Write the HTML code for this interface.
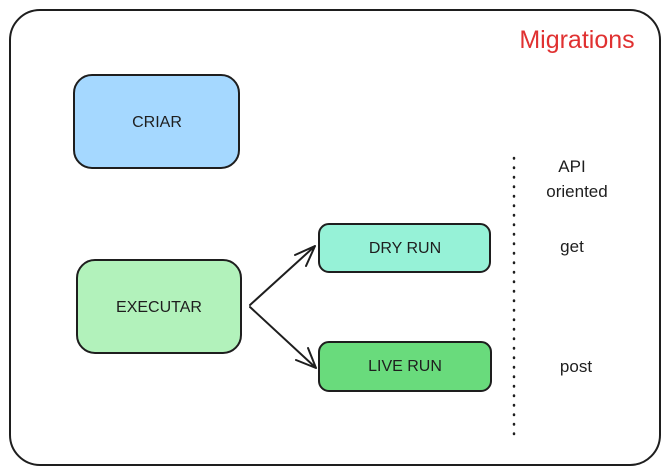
<!DOCTYPE html>
<html><head><meta charset="utf-8"><style>
html,body{margin:0;padding:0;background:#fff;width:670px;height:475px;overflow:hidden}
svg text{font-family:"Liberation Sans",sans-serif;fill:#1e1e1e}
</style></head><body>
<svg width="670" height="475" viewBox="0 0 670 475" xmlns="http://www.w3.org/2000/svg">
<rect x="10" y="10" width="650" height="455" rx="30" fill="#fff" stroke="#1e1e1e" stroke-width="2"/>
<text x="577" y="48" text-anchor="middle" font-size="25" style="fill:#e03131">Migrations</text>
<rect x="74" y="75" width="165" height="93" rx="18" fill="#a5d8ff" stroke="#1e1e1e" stroke-width="2"/>
<text x="157" y="127" text-anchor="middle" font-size="16">CRIAR</text>
<rect x="77" y="260" width="164" height="93" rx="18" fill="#b2f2bb" stroke="#1e1e1e" stroke-width="2"/>
<text x="159" y="312" text-anchor="middle" font-size="16">EXECUTAR</text>
<rect x="319" y="224" width="171" height="48" rx="10" fill="#96f2d7" stroke="#1e1e1e" stroke-width="2"/>
<text x="405" y="253" text-anchor="middle" font-size="16">DRY RUN</text>
<rect x="319" y="342" width="172" height="49" rx="10" fill="#69db7c" stroke="#1e1e1e" stroke-width="2"/>
<text x="405" y="371" text-anchor="middle" font-size="16">LIVE RUN</text>
<g stroke="#1e1e1e" stroke-width="2" fill="none" stroke-linecap="round">
<path d="M250 305 L315 246 M295 255 L315 246 M306 266 L315 246"/>
<path d="M250 307 L316 368 M296 360 L316 368 M308 348 L316 368"/>
<path d="M514 158 L514 435" stroke-dasharray="0.5 9" stroke-width="2.5"/>
</g>
<text x="572" y="172" text-anchor="middle" font-size="17">API</text>
<text x="577" y="197" text-anchor="middle" font-size="17">oriented</text>
<text x="572" y="252" text-anchor="middle" font-size="17">get</text>
<text x="576" y="372" text-anchor="middle" font-size="17">post</text>
</svg>
</body></html>
